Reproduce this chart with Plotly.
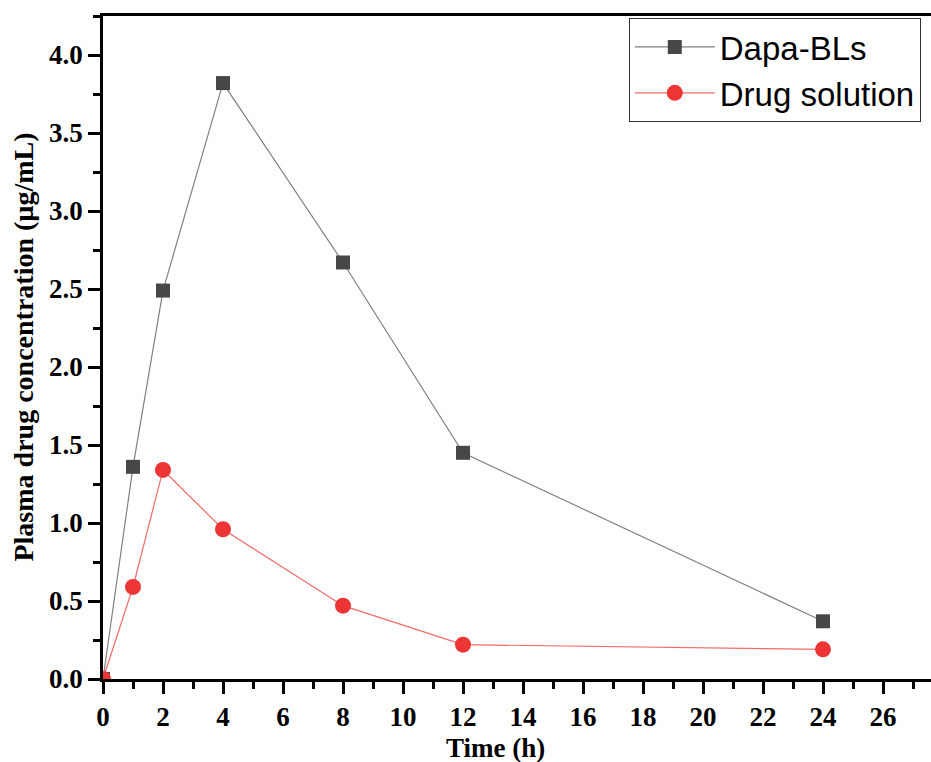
import plotly.graph_objects as go

time_h = [0, 1, 2, 4, 8, 12, 24]
dapa_bls = [0.0, 1.36, 2.49, 3.82, 2.67, 1.45, 0.37]
drug_solution = [0.0, 0.59, 1.34, 0.96, 0.47, 0.22, 0.19]

x_ticks = list(range(0, 27, 2))
y_ticks = [0.0, 0.5, 1.0, 1.5, 2.0, 2.5, 3.0, 3.5, 4.0]
y_tick_labels = [f"{v:.1f}" for v in y_ticks]

serif = "Liberation Serif, Times New Roman, serif"
sans = "Liberation Sans, Arial, sans-serif"

fig = go.Figure()
fig.add_trace(go.Scatter(
    x=time_h, y=dapa_bls, name="Dapa-BLs", mode="lines+markers",
    line=dict(color="#808080", width=1.2),
    marker=dict(symbol="square", size=14, color="#474747",
                line=dict(color="#474747", width=0)),
))
fig.add_trace(go.Scatter(
    x=time_h, y=drug_solution, name="Drug solution", mode="lines+markers",
    line=dict(color="#f26b6b", width=1.2),
    marker=dict(symbol="circle", size=16, color="#ee3535",
                line=dict(color="#ee3535", width=0)),
))

axis_common = dict(
    showgrid=False, zeroline=False, showline=True, linecolor="black",
    linewidth=2.5, ticks="outside", tickcolor="black", tickwidth=2.5,
    ticklen=12,
    tickfont=dict(family=serif, size=27, color="black", weight="bold"),
)

fig.update_xaxes(
    range=[0, 27.6], tickvals=x_ticks, mirror=True,
    minor=dict(ticks="outside", ticklen=7, dtick=1, tickwidth=2.5, tickcolor="black"),
    **axis_common,
)
fig.update_yaxes(
    range=[0, 4.25], tickvals=y_ticks, ticktext=y_tick_labels,
    minor=dict(ticks="outside", ticklen=7, dtick=0.25, tickwidth=2.5, tickcolor="black"),
    **axis_common,
)

fig.add_annotation(
    text="Time (h)", xref="paper", yref="paper", x=0.4746, y=-0.1036,
    xanchor="center", yanchor="middle", showarrow=False,
    font=dict(family=serif, size=27, color="black", weight="bold"),
)
fig.add_annotation(
    text="Plasma drug concentration (µg/mL)", xref="paper", yref="paper",
    x=-0.0966, y=0.5, textangle=-90, xanchor="center", yanchor="middle",
    showarrow=False,
    font=dict(family=serif, size=28, color="black", weight="bold"),
)

fig.update_layout(
    width=931, height=762,
    margin=dict(l=103, r=0, t=16, b=83),
    plot_bgcolor="white", paper_bgcolor="white",
    showlegend=True,
    legend=dict(
        x=0.635, y=0.997, xanchor="left", yanchor="top",
        bgcolor="white", bordercolor="#333333", borderwidth=1,
        font=dict(family=sans, size=33, color="black"),
        itemwidth=80, tracegroupgap=0,
    ),
)

fig.write_html("out.html")
